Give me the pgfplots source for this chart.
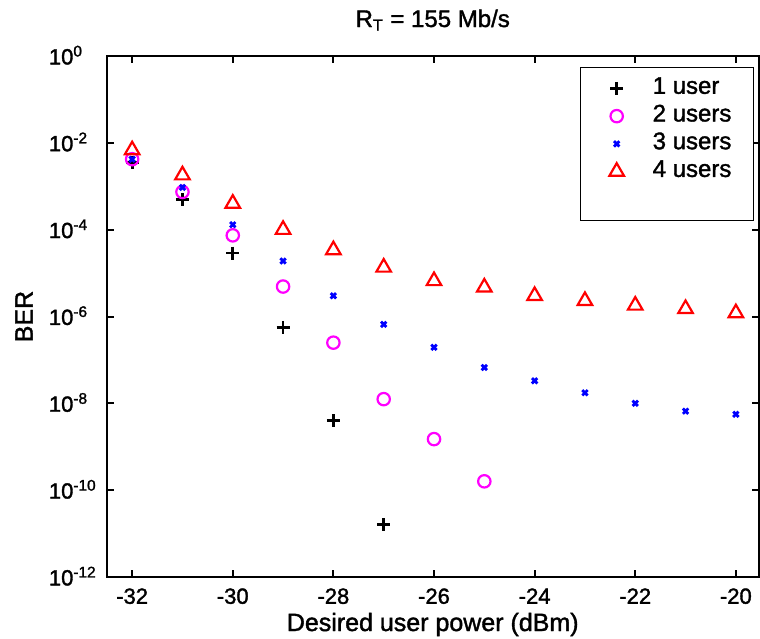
\documentclass[border=0pt]{standalone}
\usepackage{pgfplots}
\pgfplotsset{compat=1.18}
\usepackage{fontspec}
\setmainfont{Liberation Sans}[BoldFont={Liberation Sans}, BoldFeatures={FakeBold=1.5}]
\begin{document}
\begin{tikzpicture}
\begin{axis}[
  scale only axis,
  width=325.75pt, height=260.5pt,
  xmin=-32.5, xmax=-19.55,
  ymode=log, ymin=1e-12, ymax=1,
  yminorticks=false,
  xtick={-32,-30,-28,-26,-24,-22,-20},
  xticklabels={-32,-30,-28,-26,-24,-22,-20},
  ytick={1e-12,1e-10,1e-8,1e-6,1e-4,1e-2,1},
  yticklabels={{\makebox[0pt][r]{10}\textsuperscript{-12}},{\makebox[0pt][r]{10}\textsuperscript{-10}},{\makebox[0pt][r]{10}\textsuperscript{-8}},{\makebox[0pt][r]{10}\textsuperscript{-6}},{\makebox[0pt][r]{10}\textsuperscript{-4}},{\makebox[0pt][r]{10}\textsuperscript{-2}},{\makebox[0pt][r]{10}\textsuperscript{0}}},
  tick align=inside,
  major tick length=3.5pt,
  axis line style={line width=1pt},
  every tick/.style={black, line width=1pt},
  xticklabel style={font=\fontsize{11}{13}\selectfont\bfseries, anchor=north, inner sep=0pt, yshift=-5.5pt},
  yticklabel style={font=\fontsize{11}{13}\selectfont\bfseries, anchor=base west, inner sep=0pt, xshift=-17pt, yshift=-4.2pt},
  title={R\textsubscript{T} = 155 Mb/s},
  title style={at={(axis description cs:0.5,1)}, anchor=base, yshift=8.5pt, inner sep=0pt, font=\fontsize{12}{14}\selectfont\bfseries},
  xlabel={Desired user power (dBm)},
  xlabel style={at={(axis description cs:0.5,0)}, anchor=base, yshift=-27pt, inner sep=0pt, font=\fontsize{12.5}{15}\selectfont\bfseries},
  ylabel={BER},
  ylabel style={at={(axis description cs:-0.1274,0.5)}, anchor=center, inner sep=0pt, font=\fontsize{12.5}{15}\selectfont\bfseries},
  legend style={at={(axis description cs:1,1)}, anchor=north east, xshift=-2.25pt, yshift=-5.5pt,
     draw=black, line width=0.6pt, inner xsep=9pt, inner ysep=3.5pt, column sep=7pt,
     font=\fontsize{12}{14}\selectfont\bfseries,
     nodes={inner xsep=2pt, inner ysep=0pt, text height=9.6pt, text depth=4.25pt}},
  legend cell align=left,
  mylegend/.style={legend image code/.code={\path[draw=none,fill=none] (-9pt,-3pt) rectangle (9pt,3pt); \draw[##1] plot coordinates {(0pt,0pt)};}},
]
\coordinate (bl) at (rel axis cs:0,0);
\coordinate (tr) at (rel axis cs:1,1);
\addplot[only marks, mark=+, mark size=3.25pt, black, line width=1.4pt, mylegend] coordinates {
(-32,3.5e-3) (-31,5e-4) (-30,2.9e-5) (-29,5.6e-7) (-28,4.0e-9) (-27,1.6e-11)};
\addlegendentry{1 user}
\addplot[only marks, mark=o, mark size=3.1pt, color={rgb,1:red,1;green,0;blue,1}, line width=1.1pt, mylegend] coordinates {
(-32,4.2e-3) (-31,7.4e-4) (-30,7.4e-5) (-29,4.9e-6) (-28,2.5e-7) (-27,1.25e-8) (-26,1.5e-9) (-25,1.6e-10)};
\addlegendentry{2 users}
\addplot[only marks, mark=x, mark size=1.9pt, blue, line width=1.4pt, mylegend] coordinates {
(-32,4.2e-3) (-31,9.4e-4) (-30,1.3e-4) (-29,1.9e-5) (-28,3.0e-6) (-27,6.6e-7) (-26,1.95e-7) (-25,6.7e-8) (-24,3.3e-8) (-23,1.75e-8) (-22,1.0e-8) (-21,6.6e-9) (-20,5.6e-9)};
\addlegendentry{3 users}
\addplot[only marks, mark=triangle, mark size=4.2pt, red, line width=1.1pt, mylegend] coordinates {
(-32,6.8e-3) (-31,1.8e-3) (-30,4.0e-4) (-29,1.0e-4) (-28,3.4e-5) (-27,1.35e-5) (-26,6.6e-6) (-25,4.7e-6) (-24,3.0e-6) (-23,2.3e-6) (-22,1.8e-6) (-21,1.5e-6) (-20,1.2e-6)};
\addlegendentry{4 users}
\addlegendimage{empty legend}
\addlegendentry{}
\end{axis}
\pgfresetboundingbox
\path[use as bounding box] ([shift={(-53.5pt,-30.5pt)}]bl) rectangle ([shift={(0.75pt,28pt)}]tr);
\end{tikzpicture}
\end{document}
